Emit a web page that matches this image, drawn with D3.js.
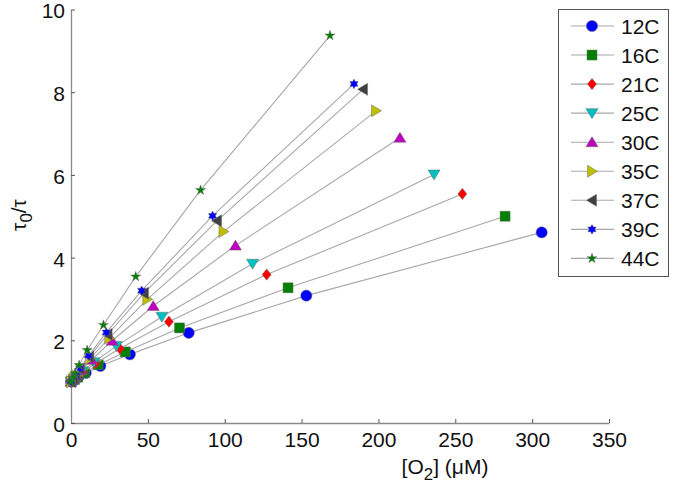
<!DOCTYPE html>
<html>
<head>
<meta charset="utf-8">
<script src="https://cdn.jsdelivr.net/npm/d3@7/dist/d3.min.js"></script>
<style>
  html, body { margin: 0; padding: 0; background: #fff; }
  svg { display: block; font-family: "Liberation Sans", Arial, sans-serif; }
</style>
</head>
<body>
<svg id="chart" width="675" height="488"></svg>
<script>
// ---------------- data ----------------
const seriesNames = ["12C", "16C", "21C", "25C", "30C", "35C", "37C", "39C", "44C"];

const o2_12C = [306.2, 153.1, 76.6, 38.3, 19.1, 9.6, 4.8, 2.4, 0];
const ratio_12C = [4.61, 3.08, 2.18, 1.66, 1.38, 1.21, 1.11, 1.05, 1.0];

const o2_16C = [282.4, 141.2, 70.6, 35.3, 17.7, 8.8, 4.4, 2.2, 0];
const ratio_16C = [5.00, 3.27, 2.30, 1.72, 1.41, 1.22, 1.11, 1.05, 1.0];

const o2_21C = [254.6, 127.3, 63.7, 31.8, 15.9, 8.0, 4.0, 2.0, 0];
const ratio_21C = [5.54, 3.59, 2.45, 1.80, 1.44, 1.24, 1.12, 1.06, 1.0];

const o2_25C = [236.2, 118.1, 59.1, 29.5, 14.8, 7.4, 3.7, 1.8, 0];
const ratio_25C = [6.01, 3.85, 2.57, 1.86, 1.47, 1.25, 1.13, 1.06, 1.0];

const o2_30C = [214.0, 107.0, 53.5, 26.8, 13.4, 6.7, 3.3, 1.7, 0];
const ratio_30C = [6.90, 4.29, 2.83, 1.99, 1.53, 1.28, 1.14, 1.07, 1.0];

const o2_35C = [198.4, 99.2, 49.6, 24.8, 12.4, 6.2, 3.1, 1.6, 0];
const ratio_35C = [7.55, 4.63, 2.99, 2.05, 1.56, 1.29, 1.15, 1.07, 1.0];

const o2_37C = [190.0, 95.0, 47.5, 23.8, 11.9, 5.9, 3.0, 1.5, 0];
const ratio_37C = [8.07, 4.89, 3.14, 2.14, 1.60, 1.31, 1.16, 1.08, 1.0];

const o2_39C = [184.1, 92.1, 46.0, 23.0, 11.5, 5.8, 2.9, 1.4, 0];
const ratio_39C = [8.20, 5.01, 3.20, 2.19, 1.63, 1.32, 1.16, 1.08, 1.0];

const o2_44C = [168.5, 84.3, 42.1, 21.1, 10.5, 5.3, 2.6, 1.3, 0];
const ratio_44C = [9.37, 5.63, 3.54, 2.37, 1.76, 1.40, 1.20, 1.10, 1.0];

const xTicks = [0, 50, 100, 150, 200, 250, 300, 350];
const yTicks = [0, 2, 4, 6, 8, 10];

const o2Lists = [o2_12C, o2_16C, o2_21C, o2_25C, o2_30C, o2_35C, o2_37C, o2_39C, o2_44C];
const ratioLists = [ratio_12C, ratio_16C, ratio_21C, ratio_25C, ratio_30C, ratio_35C, ratio_37C, ratio_39C, ratio_44C];

// ---------------- styles ----------------
const colors = ["#0000ff", "#007f00", "#ff0000", "#00bfbf", "#bf00bf", "#bfbf00", "#404040", "#0000ff", "#007f00"];

function poly(pts) {
  return { draw(ctx) { ctx.moveTo(pts[0][0], pts[0][1]); for (let i = 1; i < pts.length; i++) ctx.lineTo(pts[i][0], pts[i][1]); ctx.closePath(); } };
}
function star(n, ro, ri) {
  const pts = [];
  for (let i = 0; i < 2 * n; i++) {
    const a = -Math.PI / 2 + i * Math.PI / n;
    const r = i % 2 === 0 ? ro : ri;
    pts.push([r * Math.cos(a), r * Math.sin(a)]);
  }
  return poly(pts);
}
const circleSym = { draw(ctx) { ctx.moveTo(5.6, 0); ctx.arc(0, 0, 5.6, 0, 2 * Math.PI); } };
const squareSym = poly([[-5, -5], [5, -5], [5, 5], [-5, 5]]);
const diamondSym = poly([[0, -5.6], [4.5, 0], [0, 5.6], [-4.5, 0]]);
const triDown = poly([[-6, -4.5], [6, -4.5], [0, 5.5]]);
const triUp = poly([[0, -5.5], [6, 4.5], [-6, 4.5]]);
const triRight = poly([[-4.5, -6], [5.5, 0], [-4.5, 6]]);
const triLeft = poly([[4.5, -6], [-5.5, 0], [4.5, 6]]);
const hexagram = star(6, 4.8, 4.8 / Math.sqrt(3));
const pentagram = star(5, 5.2, 5.2 * 0.382);
const symbols = [circleSym, squareSym, diamondSym, triDown, triUp, triRight, triLeft, hexagram, pentagram];

// ---------------- chart ----------------
const svg = d3.select("#chart");
const x = d3.scaleLinear().domain([0, 350]).range([71, 609]);
const y = d3.scaleLinear().domain([0, 10]).range([423, 9.5]);
const FS = 21;
const axisColor = "#8a8a8a";

// axes
const gx = svg.append("g").attr("transform", `translate(0,${y(0)})`)
  .call(d3.axisBottom(x).tickValues(xTicks).tickSizeInner(-4).tickSizeOuter(0).tickPadding(9));
const gy = svg.append("g").attr("transform", `translate(${x(0)},0)`)
  .call(d3.axisLeft(y).tickValues(yTicks).tickSizeInner(-4).tickSizeOuter(0).tickPadding(6));
[gx, gy].forEach(g => {
  g.select(".domain").attr("stroke", axisColor).attr("stroke-width", 1.3);
  g.selectAll(".tick line").attr("stroke", "#555").attr("stroke-width", 1);
  g.selectAll(".tick text").attr("font-size", FS).attr("fill", "#111")
    .attr("font-family", "'Liberation Sans', Arial, sans-serif");
});
gy.selectAll(".tick text").attr("dy", "0.4em");

// series
const line = d3.line().x(d => x(d[0])).y(d => y(d[1]));
seriesNames.forEach((name, i) => {
  const pts = o2Lists[i].map((v, j) => [v, ratioLists[i][j]]);
  const g = svg.append("g").attr("class", "series");
  g.append("path").attr("d", line(pts)).attr("fill", "none")
    .attr("stroke", "#a8a8a8").attr("stroke-width", 1.1);
  g.selectAll("path.mk").data(pts).join("path").attr("class", "mk")
    .attr("transform", d => `translate(${x(d[0])},${y(d[1])})`)
    .attr("d", d3.symbol().type(symbols[i]).size(64)())
    .attr("fill", colors[i]).attr("stroke", "#6a6a6a").attr("stroke-width", 0.5);
});

// axis labels
const xl = svg.append("text").attr("x", 445).attr("y", 474).attr("text-anchor", "middle")
  .attr("font-size", FS).attr("fill", "#111");
xl.append("tspan").text("[O");
xl.append("tspan").text("2").attr("font-size", FS * 0.8).attr("dy", 6);
xl.append("tspan").text("] (μM)").attr("dy", -6);

const yl = svg.append("text").attr("transform", "translate(26,215) rotate(-90)")
  .attr("text-anchor", "middle").attr("font-size", FS).attr("fill", "#111");
yl.append("tspan").text("τ");
yl.append("tspan").text("0").attr("font-size", FS * 0.8).attr("dy", 6);
yl.append("tspan").text("/τ").attr("dy", -6);

// legend
const leg = svg.append("g");
leg.append("rect").attr("x", 558.5).attr("y", 9.5).attr("width", 110).attr("height", 267)
  .attr("fill", "#fff").attr("stroke", "#555").attr("stroke-width", 1);
seriesNames.forEach((name, i) => {
  const cy = 26 + i * 29.05;
  leg.append("line").attr("x1", 571).attr("x2", 614).attr("y1", cy).attr("y2", cy)
    .attr("stroke", "#a8a8a8").attr("stroke-width", 1.1);
  leg.append("path").attr("transform", `translate(592,${cy})`)
    .attr("d", d3.symbol().type(symbols[i]).size(64)())
    .attr("fill", colors[i]).attr("stroke", "#6a6a6a").attr("stroke-width", 0.5);
  leg.append("text").attr("x", 621).attr("y", cy).attr("dy", "0.36em")
    .attr("font-size", FS).attr("fill", "#111").text(name);
});
</script>
</body>
</html>
